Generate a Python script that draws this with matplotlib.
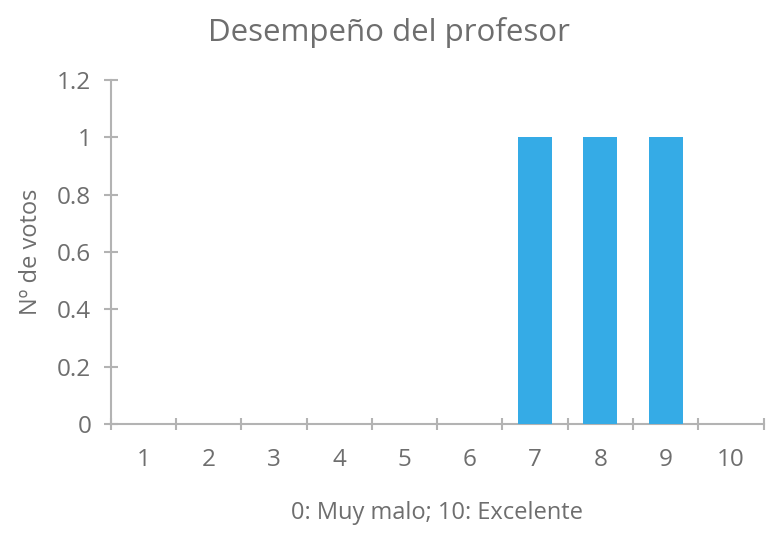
import numpy as np
import matplotlib
matplotlib.use("Agg")
import matplotlib.pyplot as plt

categories = ["1", "2", "3", "4", "5", "6", "7", "8", "9", "10"]
votes = [0, 0, 0, 0, 0, 0, 1, 1, 1, 0]
yticks = [0, 0.2, 0.4, 0.6, 0.8, 1, 1.2]
ytick_labels = ["0", "0.2", "0.4", "0.6", "0.8", "1", "1.2"]

plt.rcParams['font.family'] = ['Open Sans', 'DejaVu Sans']
TXT = "#6e6e6e"
AX = "#b3b3b3"

fig = plt.figure(figsize=(7.78, 5.36), dpi=100)
ax = fig.add_axes([0.1423, 0.209, 0.8393, 0.6417])

x = np.arange(len(categories))
ax.bar(x, votes, width=0.52, color="#35ABE6", zorder=3)

ax.set_xlim(-0.5, len(categories) - 0.5)
ax.set_ylim(0, 1.2)

for s in ["top", "right"]:
    ax.spines[s].set_visible(False)
for s in ["left", "bottom"]:
    ax.spines[s].set_color(AX)
    ax.spines[s].set_linewidth(1.5)

ax.set_yticks(yticks)
ax.set_yticklabels(ytick_labels)
ax.tick_params(axis="y", direction="inout", length=10, width=1.5, color=AX,
               labelsize=17.5, labelcolor=TXT, pad=9)

# category boundaries as ticks, labels at centres
ax.set_xticks(np.arange(-0.5, len(categories), 1.0))
ax.set_xticklabels([])
ax.set_xticks(x, minor=True)
ax.set_xticklabels(categories, minor=True)
ax.tick_params(axis="x", which="major", direction="inout", length=9, width=1.5, color=AX)
ax.tick_params(axis="x", which="minor", length=0, labelsize=17.5, labelcolor=TXT, pad=17)

ax.set_xlabel("0: Muy malo; 10: Excelente", fontsize=17, color=TXT, labelpad=21)
ax.set_ylabel("Nº de votos", fontsize=17, color=TXT, labelpad=10)
fig.suptitle("Desempeño del profesor", fontsize=22.5, color=TXT, y=0.968)

fig.savefig("out.png", dpi=100)
